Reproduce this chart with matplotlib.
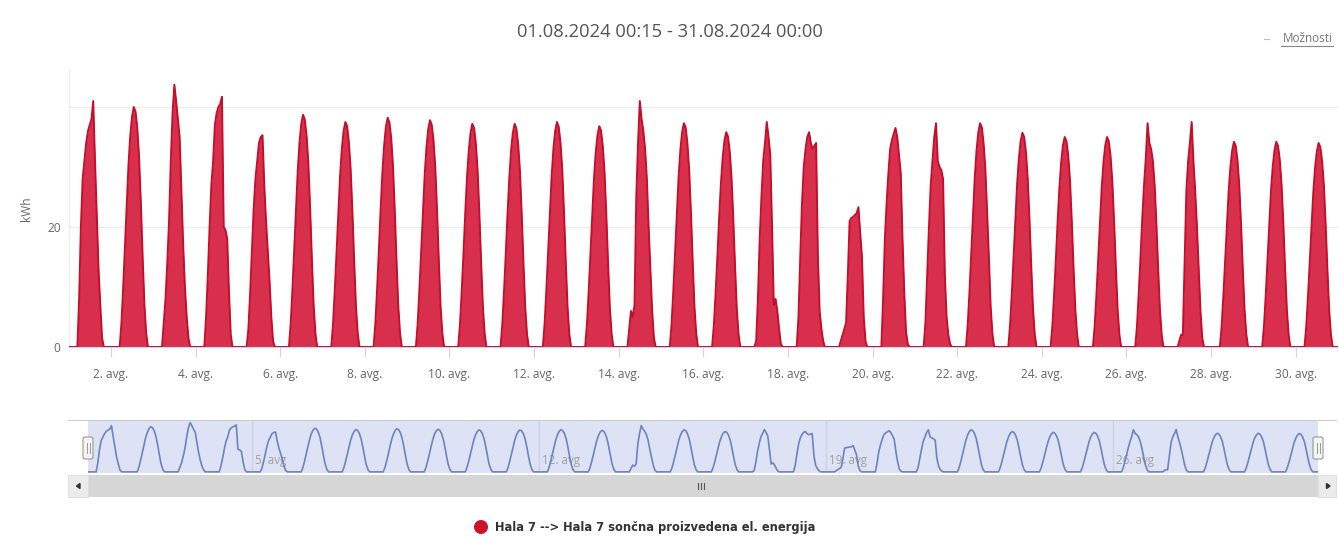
import numpy as np
import matplotlib
matplotlib.use("Agg")
import matplotlib.pyplot as plt
from matplotlib.patches import Rectangle, FancyBboxPatch, Circle

# ---------------- data (kWh per hour, hours 05..21 of each day) ----------------
PROFILE_START_HOUR = 5
aug01 = [0, 8, 20, 28, 31, 34, 36, 37, 38, 41, 31, 22, 13, 7, 1.5, 0, 0]
aug02 = [0, 4, 10, 16.8, 24, 30.4, 35.2, 38.4, 40, 39.2, 36.4, 31.6, 24, 15.2, 7.2, 2.4, 0]
aug03 = [0, 4, 8, 14, 21, 31, 39, 43.7, 41, 38, 35, 26, 17, 10, 5, 1.5, 0]
aug04 = [0, 5, 12, 20, 27, 31, 37, 39, 40, 40.5, 41.7, 20, 19.5, 18, 9, 2, 0]
aug05 = [0, 3, 9, 16, 23, 28, 31, 34, 35, 35.3, 27, 21, 16, 11, 5, 1, 0]
aug06 = [0, 3.9, 9.7, 16.3, 23.2, 29.4, 34.1, 37.2, 38.7, 37.9, 35.2, 30.6, 23.2, 14.7, 7, 2.3, 0]
aug07 = [0, 3.8, 9.4, 15.8, 22.5, 28.5, 33, 36, 37.5, 36.8, 34.1, 29.6, 22.5, 14.3, 6.8, 2.3, 0]
aug08 = [0, 3.8, 9.6, 16, 22.9, 29, 33.6, 36.7, 38.2, 37.4, 34.8, 30.2, 22.9, 14.5, 6.9, 2.3, 0]
aug09 = [0, 3.8, 9.5, 15.9, 22.7, 28.7, 33.3, 36.3, 37.8, 37, 34.4, 29.9, 22.7, 14.4, 6.8, 2.3, 0]
aug10 = [0, 3.7, 9.3, 15.6, 22.3, 28.3, 32.7, 35.7, 37.2, 36.5, 33.9, 29.4, 22.3, 14.1, 6.7, 2.2, 0]
aug11 = [0, 3.7, 9.3, 15.6, 22.3, 28.2, 32.8, 35.7, 37.2, 36.4, 33.8, 29.4, 22.3, 14.1, 6.7, 2.2, 0]
aug12 = [0, 3.8, 9.4, 15.8, 22.5, 28.5, 33, 36, 37.5, 36.7, 34.1, 29.6, 22.5, 14.2, 6.8, 2.2, 0]
aug13 = [0, 3.7, 9.2, 15.5, 22.1, 28, 32.4, 35.3, 36.8, 36.1, 33.5, 29.1, 22.1, 14, 6.6, 2.2, 0]
aug14 = [0, 3, 6, 5, 7, 25, 34, 41, 38, 36, 33, 28, 20, 13, 6, 1.5, 0]
aug15 = [0, 3.7, 9.3, 15.7, 22.4, 28.3, 32.8, 35.8, 37.3, 36.6, 33.9, 29.5, 22.4, 14.2, 6.7, 2.2, 0]
aug16 = [0, 3.6, 9, 15, 21.5, 27.2, 31.5, 34.4, 35.8, 35.1, 32.6, 28.3, 21.5, 13.6, 6.4, 2.1, 0]
aug17 = [0, 1, 8, 18, 25, 31, 34, 37.5, 35, 32, 20, 7, 8, 6, 3, 0.5, 0]
aug18 = [0, 5, 15, 24, 30, 33, 35, 35.8, 34, 33, 33.5, 34, 15, 6, 3, 1, 0]
aug19 = [0, 1, 2, 3, 4, 12, 21, 21.5, 21.7, 22, 22.3, 23.3, 19, 15, 5, 1, 0]
aug20 = [0, 8, 18, 24, 29, 33, 34.5, 35.5, 36.5, 35, 32, 29, 18, 9, 2.5, 0.5, 0]
aug21 = [0, 4, 12, 20, 27, 31, 35, 37.3, 31, 30, 29.5, 28, 12, 5, 2, 0.5, 0]
aug22 = [0, 3.7, 9.3, 15.7, 22.4, 28.3, 32.8, 35.8, 37.3, 36.6, 33.9, 29.5, 22.4, 14.8, 6.7, 2.2, 0]
aug23 = [0, 3.6, 8.9, 15, 21.4, 27.1, 31.4, 34.3, 35.7, 35, 32.5, 28.2, 21.4, 13.6, 6.4, 2.1, 0]
aug24 = [0, 3.5, 8.8, 14.7, 21, 26.6, 30.8, 33.6, 35, 34.3, 31.9, 27.7, 21, 13.3, 6.3, 2.1, 0]
aug25 = [0, 3.5, 8.7, 14.7, 21, 26.6, 30.8, 33.6, 35, 34.3, 31.8, 27.6, 21, 13.3, 6.3, 2.1, 0]
aug26 = [0, 3.5, 9, 15, 21.5, 27, 31.5, 37.3, 34, 33, 31, 27, 20.5, 13, 6.2, 2, 0]
aug27 = [0, 1, 2, 2, 14, 26, 31, 34, 37.5, 31, 26, 20, 13, 6, 1.5, 0, 0]
aug28 = [0, 3.4, 8.6, 14.4, 20.5, 26, 30.1, 32.8, 34.2, 33.5, 31.1, 27, 20.5, 13, 6.2, 2.1, 0]
aug29 = [0, 3.4, 8.5, 14.4, 20.5, 26, 30.1, 32.8, 34.2, 33.5, 31.1, 27, 20.5, 13, 6.2, 2, 0]
aug30 = [0, 3.4, 8.5, 14.3, 20.4, 25.8, 29.9, 32.6, 34, 33.3, 30.9, 26.9, 20.4, 12.9, 6.1, 2, 0]

tick_days = list(range(2, 31, 2))
tick_labels = [f"{d}. avg." for d in tick_days]
nav_tick_days = [5, 12, 19, 26]
nav_tick_labels = [f"{d}. avg" for d in nav_tick_days]

title_text = "01.08.2024 00:15 - 31.08.2024 00:00"
series_name = "Hala 7 --> Hala 7 sončna proizvedena el. energija"
y_label = "kWh"

days = [aug01, aug02, aug03, aug04, aug05, aug06, aug07, aug08, aug09, aug10,
        aug11, aug12, aug13, aug14, aug15, aug16, aug17, aug18, aug19, aug20,
        aug21, aug22, aug23, aug24, aug25, aug26, aug27, aug28, aug29, aug30]

t, v = [], []
for d, prof in enumerate(days):
    for h in range(24):
        k = h - PROFILE_START_HOUR
        t.append(d + h / 24.0)
        v.append(prof[k] if 0 <= k < len(prof) else 0.0)
t.append(30.0)
v.append(0.0)
t = np.array(t)
v = np.array(v)

# ---------------- figure ----------------
W, H = 1339, 538
fig = plt.figure(figsize=(W / 100, H / 100), dpi=100)
fig.patch.set_facecolor("white")

def fx(px):
    return px / W

def fy(py):
    return 1 - py / H

# main axes
L, R, T, B = 69, 1338, 70, 347
ax = fig.add_axes([fx(L), fy(B), fx(R - L), (B - T) / H])
ax.set_xlim(0.0104, 30.0)
ax.set_ylim(0, (B - T) / 6.0)
fill_c = "#d8304c"
line_c = "#c40f2c"
ax.fill_between(t, 0, v, color=fill_c, linewidth=0, zorder=2)
ax.plot(t, v, color=line_c, linewidth=1.4, zorder=3)
ax.set_yticks([0, 20, 40])
ax.set_yticklabels(["0", "20", ""])
ax.yaxis.grid(True, color="#ececec", linewidth=0.9, zorder=0)
ax.set_xticks([d - 1 for d in tick_days])
ax.set_xticklabels(tick_labels)
ax.tick_params(axis="x", length=7, color="#ccd6eb", labelsize=8.6,
               labelcolor="#666666", pad=8)
ax.tick_params(axis="y", length=0, labelsize=8.6, labelcolor="#666666", pad=6)
for lab in ax.get_xticklabels() + ax.get_yticklabels():
    lab.set_fontfamily("Open Sans")
for s in ["top", "right"]:
    ax.spines[s].set_visible(False)
ax.spines["left"].set_color("#ececec")
ax.spines["bottom"].set_color("#ccd6eb")
ax.set_ylabel(y_label, color="#666666", fontsize=8.6, family="Open Sans",
              labelpad=10)
ax.set_facecolor("none")

# navigator axes
NL, NR, NT, NB = 88, 1318, 420, 473
nav = fig.add_axes([fx(NL), fy(NB), fx(NR - NL), (NB - NT) / H])
nav.set_facecolor("#dde3f4")
nav.set_xlim(0.0104, 30.0)
nav.set_ylim(-1.0, 46)
for d in nav_tick_days:
    nav.axvline(d - 1, color="#c9d0e3", linewidth=0.8, zorder=1)
nav.plot(t, v, color="#6c84c2", linewidth=1.2, zorder=3)
for d, lab in zip(nav_tick_days, nav_tick_labels):
    nav.text(d - 1 + 0.08, 0.12, lab, transform=nav.get_xaxis_transform(),
             color="#a0a0a0", fontsize=8.4, family="Open Sans", zorder=2,
             ha="left", va="bottom")
nav.set_xticks([])
nav.set_yticks([])
for s in nav.spines.values():
    s.set_visible(False)

# overlay canvas for decorations
cv = fig.add_axes([0, 0, 1, 1], zorder=5)
cv.set_xlim(0, W)
cv.set_ylim(H, 0)
cv.axis("off")
cv.patch.set_alpha(0)

# title
cv.text(670, 32, title_text, ha="center", va="center", fontsize=13.2,
        color="#555555", family="Open Sans")
# Moznosti link
cv.text(1333, 39, "Možnosti", ha="right", va="center", fontsize=8.4,
        color="#777777", family="Open Sans")
cv.plot([1281, 1333], [46, 46], color="#888888", linewidth=0.8)
cv.plot([1264, 1269], [39, 39], color="#bbbbbb", linewidth=0.8)

# navigator outline line
cv.plot([68, 1336], [420, 420], color="#cccccc", linewidth=0.8)

# scrollbar
cv.add_patch(Rectangle((68, 475), 1268, 22, facecolor="#f2f2f2",
                       edgecolor="none"))
cv.add_patch(Rectangle((88, 475), 1230, 22, facecolor="#d6d6d6",
                       edgecolor="none"))
cv.add_patch(Rectangle((68, 475), 20, 22, facecolor="#ebebeb",
                       edgecolor="#dddddd", linewidth=0.6))
cv.add_patch(Rectangle((1318, 475), 18, 22, facecolor="#ebebeb",
                       edgecolor="#dddddd", linewidth=0.6))
cv.fill([76.5, 80, 80], [486, 483.5, 488.5], color="#333333")
cv.fill([1330, 1326.5, 1326.5], [486, 483.5, 488.5], color="#333333")
for gx in (698, 701, 704):
    cv.plot([gx, gx], [483, 489], color="#555555", linewidth=0.8)

# navigator handles
for hx in (88, 1318):
    cv.add_patch(FancyBboxPatch((hx - 5, 437), 10, 22,
                                boxstyle="round,pad=0,rounding_size=2",
                                facecolor="#f4f4f4", edgecolor="#999999",
                                linewidth=0.8))
    cv.plot([hx - 1.5, hx - 1.5], [443, 453], color="#999999", linewidth=0.7)
    cv.plot([hx + 1.5, hx + 1.5], [443, 453], color="#999999", linewidth=0.7)

# legend
cv.add_patch(Circle((481, 527), 7, facecolor="#d0102c", edgecolor="none"))
cv.text(495, 527.5, series_name, ha="left", va="center", fontsize=8.3,
        color="#333333", family="DejaVu Sans", fontweight="semibold")

fig.savefig("out.png", dpi=100, facecolor="white")
